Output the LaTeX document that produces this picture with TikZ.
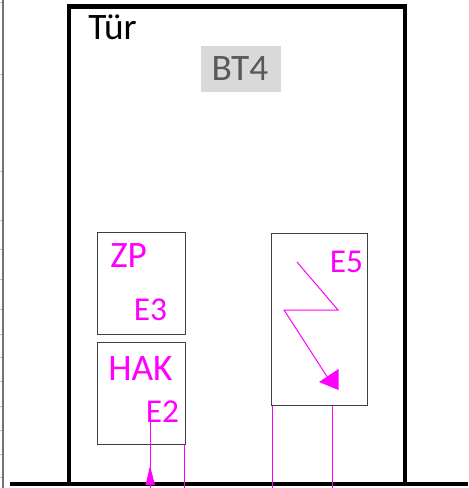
\documentclass[tikz,border=0pt]{standalone}
\usepackage{fontspec}
\setmainfont{Carlito}
\usetikzlibrary{positioning}
\definecolor{elek}{RGB}{255,0,255}
\tikzset{
  wall/.style={line width=3.4pt},
  panel/.style={draw=black!75, line width=0.75pt, minimum width=66pt, anchor=north west, inner sep=0pt},
  bigfont/.style={font=\fontsize{28}{28}\selectfont},
  elabel/.style={text=elek, font=\fontsize{28}{28}\selectfont, inner sep=0pt},
  enumber/.style={text=elek, font=\fontsize{25}{25}\selectfont, inner sep=0pt},
  cable/.style={draw=elek, line width=0.75pt},
}
\begin{document}
\begin{tikzpicture}[x=0.75pt, y=-0.75pt]
  \useasboundingbox (0,0) rectangle (468,488);
  % ruler
  \draw[black!55, line width=1.6pt] (3,0) -- (3,488);
  \foreach \ty in {3,75,172,220,249,279,309,334,357,381,406,430,454,477}
    \draw[black!25, line width=0.75pt] (0,\ty) -- (2,\ty);
  % walls
  \coordinate (wallTL) at (69,6.5);
  \coordinate (wallTR) at (405,6.5);
  \coordinate (floorL) at (10,484);
  \coordinate (floorR) at (468,484);
  \draw[wall] (69,484) -- (wallTL) -- (wallTR) -- (405,484);
  \draw[wall] (floorL) -- (floorR);
  % labels on top
  \node[anchor=west, inner sep=0pt, bigfont] (door) at (88,27) {Tür};
  \node[fill=black!15, text=black!65, minimum width=60pt, minimum height=34.5pt, inner sep=0pt, bigfont] (bt4box) at (241,69) {};
  \node[text=black!65, inner sep=0pt, bigfont] (bt4) at (240,69) {BT4};
  % boxes
  \node[panel, minimum height=76.5pt] (zp) at (96.5,232) {};
  \node[panel, minimum height=76.5pt] (hak) at (96.5,342) {};
  \node[panel, minimum width=72pt, minimum height=129pt] (efive) at (271,233) {};
  \node[elabel, anchor=west] (zptext) at (110,256) {ZP};
  \node[enumber, anchor=west] (ethree) at (133.5,310) {E3};
  \node[elabel, anchor=west] (haktext) at (108,369) {HAK};
  \node[enumber, anchor=west] (etwo) at (145.5,412) {E2};
  \node[enumber, anchor=west] (efivetext) at (329.5,262) {E5};
  % cables
  \coordinate (c1) at (150,422);
  \coordinate (c1b) at (150,488);
  \coordinate (c2) at (184.5,488);
  \coordinate (c3) at (272.5,488);
  \coordinate (c4) at (332,488);
  \draw[cable] (c1) -- (c1b);
  \fill[elek] (150,466) -- (155,485) -- (145.5,485) -- cycle;
  \draw[cable] (hak.south east -| c2) -- (c2);
  \draw[cable] (efive.south west -| c3) -- (c3);
  \draw[cable] (efive.south west -| c4) -- (c4);
  % lightning
  \draw[cable] (297,262) -- (338,310) -- (284,310) -- (328,378);
  \fill[elek] (338.5,369) -- (338.5,390) -- (319,382) -- cycle;
\end{tikzpicture}
\end{document}
